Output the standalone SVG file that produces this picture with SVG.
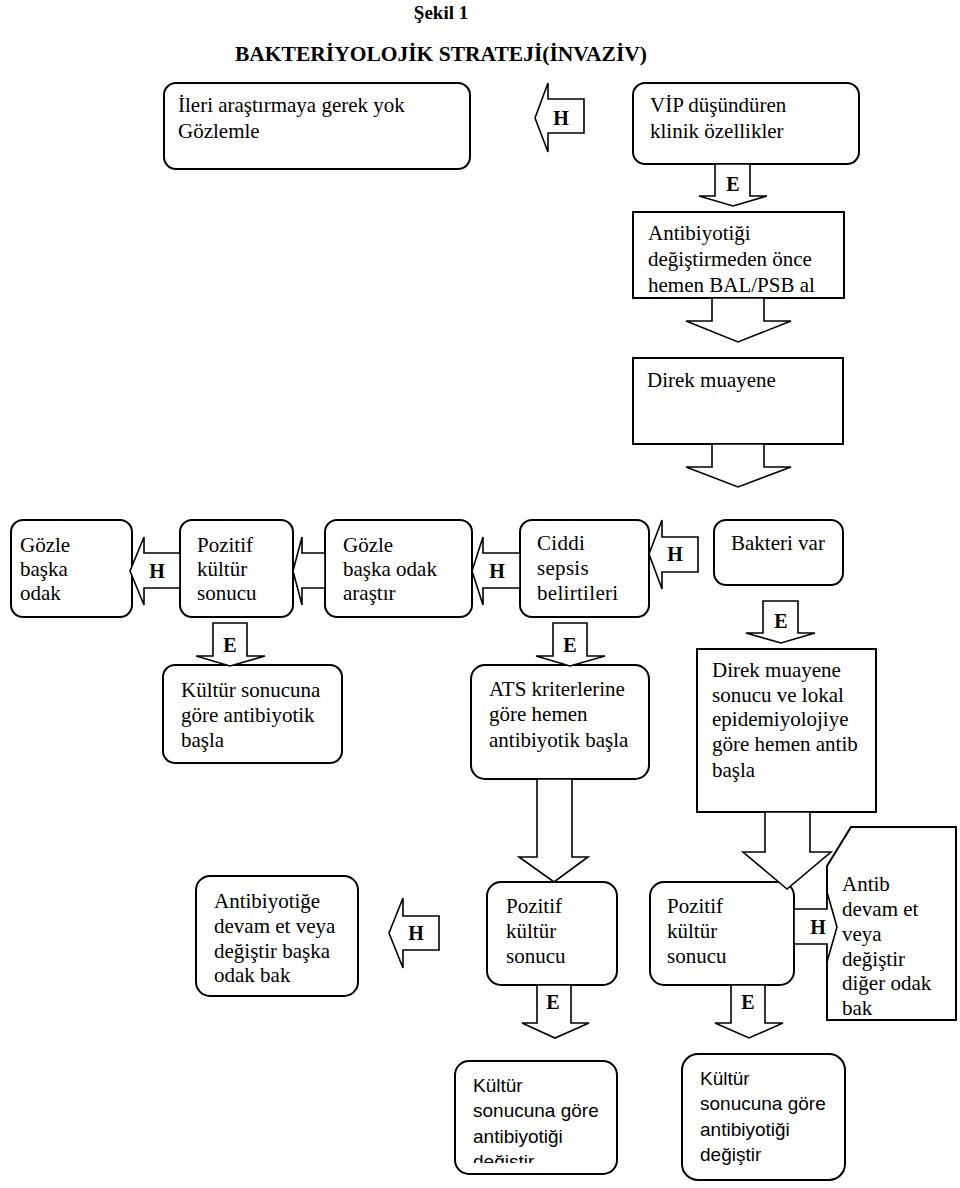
<svg xmlns="http://www.w3.org/2000/svg" width="960" height="1188" viewBox="0 0 960 1188">
<style>
.bx{fill:#fff;stroke:#000;stroke-width:2}
.ar{fill:#fff;stroke:#000;stroke-width:1.6;stroke-linejoin:miter}
.t{font-family:"Liberation Serif","Times New Roman",serif;font-size:21px;fill:#000}
.ts{font-family:"Liberation Sans",Arial,sans-serif;font-size:19px;fill:#000}
.ta{font-family:"Liberation Serif","Times New Roman",serif;font-size:21px;fill:#000}
.lb{font-family:"Liberation Serif","Times New Roman",serif;font-size:20px;font-weight:bold;fill:#000;text-anchor:middle}
.hd{font-family:"Liberation Serif","Times New Roman",serif;font-weight:bold;fill:#000;text-anchor:middle}
</style>
<defs>
<clipPath id="clipK"><rect x="455" y="1061" width="162" height="102"/></clipPath>
</defs>
<rect width="960" height="1188" fill="#fff"/>
<text class="hd" x="441" y="19" font-size="19">Şekil 1</text>
<text class="hd" x="441" y="61" font-size="21.5">BAKTERİYOLOJİK STRATEJİ(İNVAZİV)</text>

<g id="n1"><rect class="bx" x="164" y="83" width="306" height="86" rx="12"/>
<text class="t" x="178" y="112">İleri araştırmaya gerek yok</text><text class="t" x="178" y="138">Gözlemle</text></g>
<g id="n2"><rect class="bx" x="633" y="83" width="226" height="81" rx="12"/>
<text class="t" x="650" y="112">VİP düşündüren</text><text class="t" x="650" y="138">klinik özellikler</text></g>
<g id="n3"><rect class="bx" x="633" y="212" width="211" height="86"/>
<text class="t" x="648" y="240">Antibiyotiği</text><text class="t" x="648" y="266">değiştirmeden önce</text><text class="t" x="648" y="292">hemen BAL/PSB al</text></g>
<g id="n4"><rect class="bx" x="633" y="358" width="210" height="86"/>
<text class="t" x="647" y="387">Direk muayene</text></g>

<g id="n5"><rect class="bx" x="11" y="520" width="121" height="97" rx="12"/>
<text class="t" x="20" y="552">Gözle</text><text class="t" x="20" y="576">başka</text><text class="t" x="20" y="600">odak</text></g>
<g id="n6"><rect class="bx" x="180" y="520" width="113" height="97" rx="12"/>
<text class="t" x="197" y="552">Pozitif</text><text class="t" x="197" y="576">kültür</text><text class="t" x="197" y="600">sonucu</text></g>
<g id="n7"><rect class="bx" x="325" y="520" width="147" height="97" rx="12"/>
<text class="t" x="343" y="552">Gözle</text><text class="t" x="343" y="576">başka odak</text><text class="t" x="343" y="600">araştır</text></g>
<g id="n8"><rect class="bx" x="520" y="520" width="129" height="97" rx="12"/>
<text class="t" x="537" y="550" letter-spacing="0.3">Ciddi</text><text class="t" x="537" y="575" letter-spacing="0.3">sepsis</text><text class="t" x="537" y="600" letter-spacing="0.3">belirtileri</text></g>
<g id="n9"><rect class="bx" x="714" y="520" width="129" height="65" rx="12"/>
<text class="t" x="731" y="550">Bakteri var</text></g>

<g id="n10"><rect class="bx" x="163" y="665" width="179" height="98" rx="12"/>
<text class="t" x="181" y="697">Kültür sonucuna</text><text class="t" x="181" y="722">göre antibiyotik</text><text class="t" x="181" y="747">başla</text></g>
<g id="n11"><rect class="bx" x="471" y="665" width="178" height="114" rx="14"/>
<text class="t" x="489" y="696">ATS kriterlerine</text><text class="t" x="489" y="721">göre hemen</text><text class="t" x="489" y="747">antibiyotik başla</text></g>
<g id="n12"><rect class="bx" x="697" y="649" width="179" height="163"/>
<text class="t" x="712" y="677">Direk muayene</text><text class="t" x="712" y="702">sonucu ve lokal</text><text class="t" x="712" y="726">epidemiyolojiye</text><text class="t" x="712" y="751">göre hemen antib</text><text class="t" x="712" y="777">başla</text></g>

<g id="n13"><rect class="bx" x="196" y="876" width="162" height="120" rx="14"/>
<text class="t" x="214" y="908">Antibiyotiğe</text><text class="t" x="214" y="933">devam et veya</text><text class="t" x="214" y="958">değiştir başka</text><text class="t" x="214" y="982">odak bak</text></g>
<g id="n14"><rect class="bx" x="487" y="882" width="130" height="103" rx="14"/>
<text class="t" x="506" y="913">Pozitif</text><text class="t" x="506" y="938">kültür</text><text class="t" x="506" y="963">sonucu</text></g>
<g id="n15"><rect class="bx" x="650" y="882" width="144" height="103" rx="14"/>
<text class="t" x="667" y="913">Pozitif</text><text class="t" x="667" y="938">kültür</text><text class="t" x="667" y="963">sonucu</text></g>
<g id="n16"><polygon class="bx" points="851,827 956,827 956,1020 827,1020 827,866"/>
<text class="ta" x="842" y="891">Antib</text><text class="ta" x="842" y="916">devam et</text><text class="ta" x="842" y="941">veya</text><text class="ta" x="842" y="966">değiştir</text><text class="ta" x="842" y="990">diğer odak</text><text class="ta" x="842" y="1015">bak</text></g>

<g id="n17"><rect class="bx" x="455" y="1061" width="162" height="113" rx="14"/>
<g clip-path="url(#clipK)"><text class="ts" x="473" y="1092">Kültür</text><text class="ts" x="473" y="1117">sonucuna göre</text><text class="ts" x="473" y="1143">antibiyotiği</text><text class="ts" x="473" y="1168">değiştir</text></g></g>
<g id="n18"><rect class="bx" x="682" y="1054" width="163" height="126" rx="16"/>
<text class="ts" x="700" y="1085">Kültür</text><text class="ts" x="700" y="1110">sonucuna göre</text><text class="ts" x="700" y="1136">antibiyotiği</text><text class="ts" x="700" y="1161">değiştir</text></g>

<g id="connectors">
<polygon class="ar" points="584,99 548,99 548,83 535,118 548,152 548,133 584,133"/><text class="lb" x="561" y="125">H</text>
<polygon class="ar" points="715,164 715,196 699,196 733,206 767,196 750,196 750,164"/><text class="lb" x="733" y="191">E</text>
<polygon class="ar" points="712,298 712,321 686,321 738,342 791,321 764,321 764,298"/>
<polygon class="ar" points="712,444 712,467 686,467 738,487 791,467 764,467 764,444"/>
<polygon class="ar" points="180,553 144,553 144,537 130,571 144,605 144,588 180,588"/><text class="lb" x="157" y="578">H</text>
<polygon class="ar" points="325,553 302,553 302,537 293,571 302,605 302,588 325,588"/>
<polygon class="ar" points="520,553 483,553 483,537 472,571 483,605 483,588 520,588"/><text class="lb" x="497" y="578">H</text>
<polygon class="ar" points="698,537 662,537 662,520 649,554 662,589 662,572 698,572"/><text class="lb" x="675" y="561">H</text>
<polygon class="ar" points="213,623 213,656 196,656 230,666 265,656 247,656 247,623"/><text class="lb" x="230" y="652">E</text>
<polygon class="ar" points="553,623 553,656 536,656 570,666 605,656 587,656 587,623"/><text class="lb" x="570" y="652">E</text>
<polygon class="ar" points="763,601 763,633 746,633 781,643 815,633 798,633 798,601"/><text class="lb" x="781" y="628">E</text>
<polygon class="ar" points="537,779 537,857 519,857 554,882 588,857 572,857 572,779"/>
<polygon class="ar" points="765,812 765,852 743,852 787,889 831,852 810,852 810,812"/>
<polygon class="ar" points="439,916 403,916 403,898 389,933 403,968 403,950 439,950"/><text class="lb" x="416" y="940">H</text>
<polygon class="ar" points="794,909 827,909 827,892 837,927 827,962 827,944 794,944"/><text class="lb" x="818" y="934">H</text>
<polygon class="ar" points="537,985 537,1023 522,1023 555,1038 589,1023 571,1023 571,985"/><text class="lb" x="553" y="1009">E</text>
<polygon class="ar" points="731,985 731,1023 715,1023 749,1038 783,1023 765,1023 765,985"/><text class="lb" x="748" y="1009">E</text>
</g>
</svg>
